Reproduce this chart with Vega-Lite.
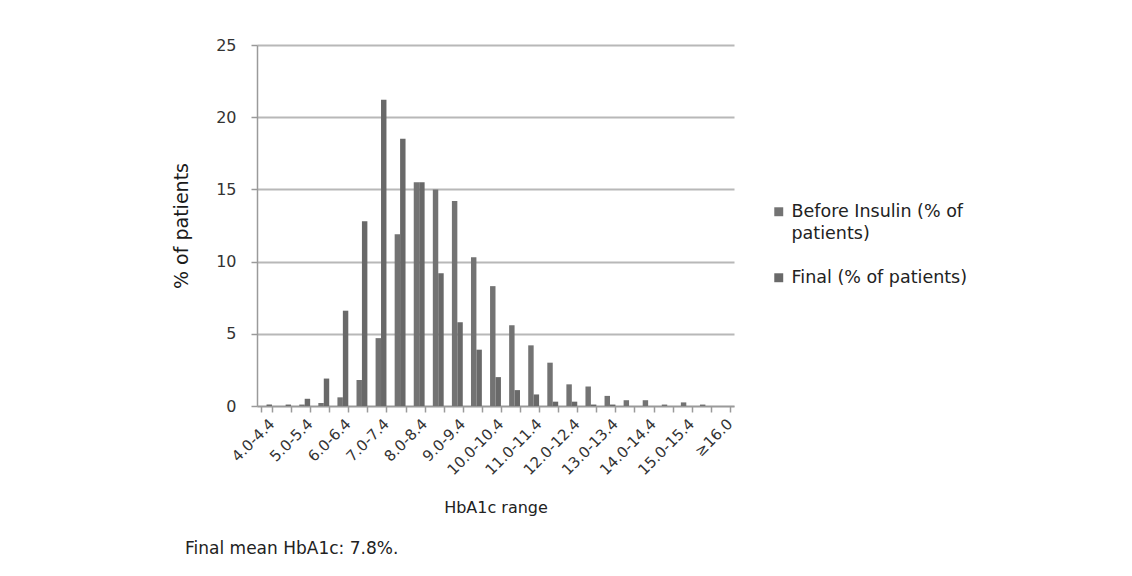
{
  "$schema": "https://vega.github.io/schema/vega-lite/v6.json",
  "width": 477,
  "height": 361,
  "autosize": {"type": "none"},
  "padding": {"left": 257, "top": 45, "right": 398, "bottom": 170},
  "background": "white",
  "title": {
    "text": "Final mean HbA1c: 7.8%.",
    "orient": "bottom",
    "anchor": "start",
    "frame": "group",
    "dx": -72,
    "offset": 25,
    "font": "DejaVu Sans",
    "fontSize": 17,
    "fontWeight": "normal",
    "color": "#222222"
  },
  "config": {
    "font": "DejaVu Sans",
    "view": {"stroke": null}
  },
  "data": {
    "values": [
      {"range": "4.0-4.4", "series": "Before Insulin (% of patients)", "value": 0},
      {"range": "4.0-4.4", "series": "Final (% of patients)", "value": 0.1},
      {"range": "4.5-4.9", "series": "Before Insulin (% of patients)", "value": 0},
      {"range": "4.5-4.9", "series": "Final (% of patients)", "value": 0.1},
      {"range": "5.0-5.4", "series": "Before Insulin (% of patients)", "value": 0.1},
      {"range": "5.0-5.4", "series": "Final (% of patients)", "value": 0.5},
      {"range": "5.5-5.9", "series": "Before Insulin (% of patients)", "value": 0.2},
      {"range": "5.5-5.9", "series": "Final (% of patients)", "value": 1.9},
      {"range": "6.0-6.4", "series": "Before Insulin (% of patients)", "value": 0.6},
      {"range": "6.0-6.4", "series": "Final (% of patients)", "value": 6.6},
      {"range": "6.5-6.9", "series": "Before Insulin (% of patients)", "value": 1.8},
      {"range": "6.5-6.9", "series": "Final (% of patients)", "value": 12.8},
      {"range": "7.0-7.4", "series": "Before Insulin (% of patients)", "value": 4.7},
      {"range": "7.0-7.4", "series": "Final (% of patients)", "value": 21.2},
      {"range": "7.5-7.9", "series": "Before Insulin (% of patients)", "value": 11.9},
      {"range": "7.5-7.9", "series": "Final (% of patients)", "value": 18.5},
      {"range": "8.0-8.4", "series": "Before Insulin (% of patients)", "value": 15.5},
      {"range": "8.0-8.4", "series": "Final (% of patients)", "value": 15.5},
      {"range": "8.5-8.9", "series": "Before Insulin (% of patients)", "value": 15.0},
      {"range": "8.5-8.9", "series": "Final (% of patients)", "value": 9.2},
      {"range": "9.0-9.4", "series": "Before Insulin (% of patients)", "value": 14.2},
      {"range": "9.0-9.4", "series": "Final (% of patients)", "value": 5.8},
      {"range": "9.5-9.9", "series": "Before Insulin (% of patients)", "value": 10.3},
      {"range": "9.5-9.9", "series": "Final (% of patients)", "value": 3.9},
      {"range": "10.0-10.4", "series": "Before Insulin (% of patients)", "value": 8.3},
      {"range": "10.0-10.4", "series": "Final (% of patients)", "value": 2.0},
      {"range": "10.5-10.9", "series": "Before Insulin (% of patients)", "value": 5.6},
      {"range": "10.5-10.9", "series": "Final (% of patients)", "value": 1.1},
      {"range": "11.0-11.4", "series": "Before Insulin (% of patients)", "value": 4.2},
      {"range": "11.0-11.4", "series": "Final (% of patients)", "value": 0.8},
      {"range": "11.5-11.9", "series": "Before Insulin (% of patients)", "value": 3.0},
      {"range": "11.5-11.9", "series": "Final (% of patients)", "value": 0.3},
      {"range": "12.0-12.4", "series": "Before Insulin (% of patients)", "value": 1.5},
      {"range": "12.0-12.4", "series": "Final (% of patients)", "value": 0.3},
      {"range": "12.5-12.9", "series": "Before Insulin (% of patients)", "value": 1.35},
      {"range": "12.5-12.9", "series": "Final (% of patients)", "value": 0.1},
      {"range": "13.0-13.4", "series": "Before Insulin (% of patients)", "value": 0.7},
      {"range": "13.0-13.4", "series": "Final (% of patients)", "value": 0.1},
      {"range": "13.5-13.9", "series": "Before Insulin (% of patients)", "value": 0.4},
      {"range": "13.5-13.9", "series": "Final (% of patients)", "value": 0},
      {"range": "14.0-14.4", "series": "Before Insulin (% of patients)", "value": 0.4},
      {"range": "14.0-14.4", "series": "Final (% of patients)", "value": 0},
      {"range": "14.5-14.9", "series": "Before Insulin (% of patients)", "value": 0.1},
      {"range": "14.5-14.9", "series": "Final (% of patients)", "value": 0},
      {"range": "15.0-15.4", "series": "Before Insulin (% of patients)", "value": 0.25},
      {"range": "15.0-15.4", "series": "Final (% of patients)", "value": 0},
      {"range": "15.5-15.9", "series": "Before Insulin (% of patients)", "value": 0.1},
      {"range": "15.5-15.9", "series": "Final (% of patients)", "value": 0},
      {"range": "≥16.0", "series": "Before Insulin (% of patients)", "value": 0},
      {"range": "≥16.0", "series": "Final (% of patients)", "value": 0}
    ]
  },
  "mark": {"type": "bar"},
  "encoding": {
    "x": {
      "field": "range",
      "type": "nominal",
      "sort": null,
      "scale": {"paddingInner": 0.43, "paddingOuter": 0.215},
      "axis": {
        "title": "HbA1c range",
        "titleFont": "DejaVu Sans",
        "titleFontSize": 16,
        "titleFontWeight": "normal",
        "titleColor": "#222222",
        "titlePadding": 22,
        "labelAngle": -45,
        "labelFontSize": 15,
        "labelColor": "#333333",
        "labelExpr": "indexof(datum.label, '.5-') >= 0 ? '' : datum.label",
        "labelPadding": 4,
        "tickBand": "extent",
        "ticks": true,
        "tickSize": 6,
        "tickColor": "#9a9a9a",
        "tickWidth": 1.5,
        "domainColor": "#9a9a9a",
        "domainWidth": 1.5,
        "grid": false
      }
    },
    "xOffset": {
      "field": "series",
      "type": "nominal",
      "scale": {"paddingInner": 0, "paddingOuter": 0}
    },
    "y": {
      "field": "value",
      "type": "quantitative",
      "scale": {"domain": [0, 25]},
      "axis": {
        "title": "% of patients",
        "titleFont": "DejaVu Sans",
        "titleFontSize": 19,
        "titleFontWeight": "normal",
        "titleColor": "#1a1a1a",
        "titlePadding": 24,
        "values": [0, 5, 10, 15, 20, 25],
        "labelFontSize": 16,
        "labelColor": "#333333",
        "labelPadding": 15,
        "tickSize": 6,
        "tickColor": "#9a9a9a",
        "tickWidth": 1.5,
        "domainColor": "#9a9a9a",
        "domainWidth": 1.5,
        "grid": true,
        "gridColor": "#b8b8b8",
        "gridWidth": 2
      }
    },
    "color": {
      "field": "series",
      "type": "nominal",
      "scale": {"range": ["#737373", "#696969"]},
      "legend": {
        "title": null,
        "orient": "none",
        "legendX": 513,
        "legendY": 158,
        "symbolType": "square",
        "symbolSize": 80,
        "labelFont": "DejaVu Sans",
        "labelFontSize": 17.5,
        "labelColor": "#222222",
        "labelLimit": 400,
        "rowPadding": 25,
        "labelExpr": "datum.label == 'Before Insulin (% of patients)' ? ['Before Insulin (% of', 'patients)'] : datum.label",
        "encode": {"labels": {"update": {"lineHeight": {"value": 22}}}}
      }
    }
  }
}
